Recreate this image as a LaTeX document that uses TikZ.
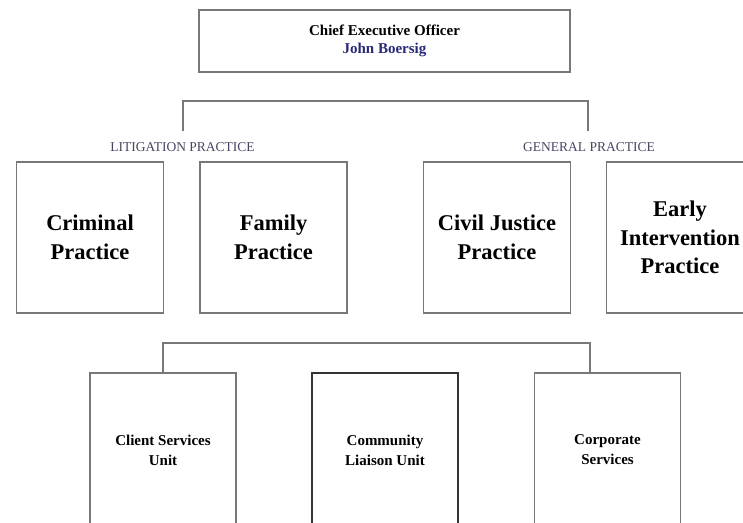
\documentclass[tikz,border=0pt]{standalone}
\usepackage{fontspec}
\setmainfont{Liberation Serif}
\usetikzlibrary{positioning}
\definecolor{boxline}{RGB}{120,120,120}
\definecolor{namecol}{RGB}{40,40,120}
\definecolor{groupcol}{RGB}{70,70,100}

\begin{document}
\begin{tikzpicture} [x=1pt,y=-1pt,line width=1.6pt,draw=boxline]

  \tikzset{
    unit/.style={draw=boxline,rectangle,align=center,inner sep=0pt},
    practice/.style={unit,minimum width=147pt,minimum height=151pt,
      font=\bfseries\fontsize{22.5}{28.5}\selectfont},
    service/.style={unit,minimum width=146pt,minimum height=154pt,
      font=\bfseries\fontsize{15}{20}\selectfont},
    group/.style={text=groupcol,font=\fontsize{13.5}{16}\selectfont}
  }

  \useasboundingbox (0,0) rectangle (743,522);
  \clip (0,0) rectangle (743,522);

  % chief executive
  \node[unit,minimum width=371pt,minimum height=62pt,
        font=\bfseries\fontsize{15}{18}\selectfont] (ceo) at (384.5,41)
    {Chief Executive Officer\\ \textcolor{namecol}{John Boersig}};

  % practices
  \node[practice] (crim) at (90,237.5) {Criminal\\Practice};
  \node[practice] (fam) at (273.5,237.5) {Family\\Practice};
  \node[practice] (civil) at (497,237.5) {Civil Justice\\Practice};
  \node[practice] (early) at (680,237.5) {Early\\Intervention\\Practice};

  \node[group] (lit) at (182.5,147) {LITIGATION PRACTICE};
  \node[group] (gen) at (589,147) {GENERAL PRACTICE};

  \coordinate (litend) at (183,131);
  \coordinate (genend) at (588,131);
  \coordinate (topbar) at (385,101);
  \draw (litend) |- (topbar) -| (genend);

  % services
  \node[service] (client) at (163,450) {Client Services\\Unit};
  \node[service,draw=black!80] (liaison) at (385,450) {Community\\Liaison Unit};
  \node[service] (corp) at (607.5,450) {Corporate\\Services};

  \coordinate (botbar) at (385,343);
  \coordinate (corpjoin) at (590,373);
  \draw (client.north) |- (botbar) -| (corpjoin);

\end{tikzpicture}
\end{document}
